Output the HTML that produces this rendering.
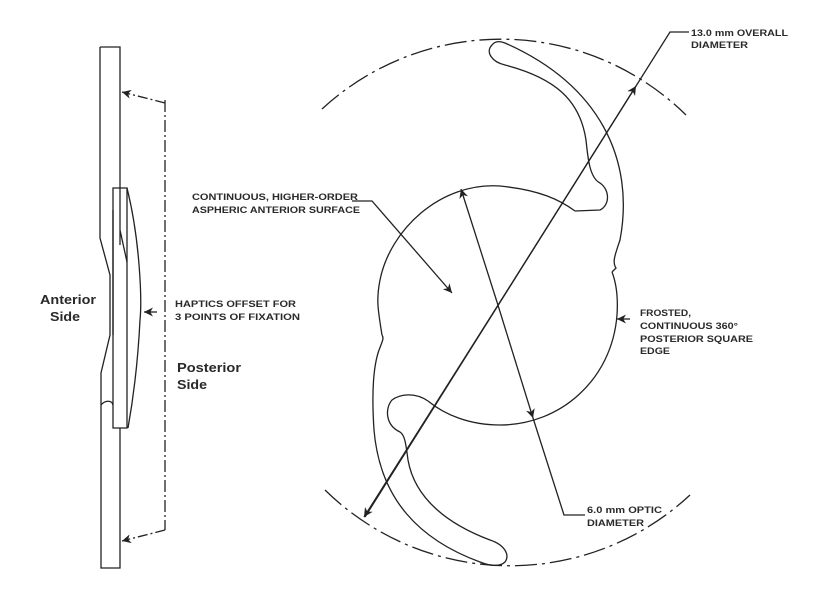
<!DOCTYPE html>
<html><head><meta charset="utf-8"><style>
html,body{margin:0;padding:0;background:#fff;width:830px;height:599px;overflow:hidden}
svg{display:block}
text{font-family:"Liberation Sans",sans-serif;font-weight:bold;fill:#2a2a2a}
.s{font-size:9.5px}
.b{font-size:13px}
</style></head><body>
<svg width="830" height="599" viewBox="0 0 830 599" xmlns="http://www.w3.org/2000/svg">
<defs>
<marker id="a" viewBox="0 0 10 10" refX="10" refY="5" markerWidth="9" markerHeight="9" orient="auto" markerUnits="userSpaceOnUse">
<path d="M0,0 L10,5 L0,10 L3,5 z" fill="#222"/></marker>
</defs>
<g fill="none" stroke="#222" stroke-width="1.3">
<!-- overall dashed circle arcs -->
<path d="M322,109 A264,264 0 0 1 686,115" stroke-dasharray="22,5,3,5"/>
<path d="M325,490 A264,264 0 0 0 690,495" stroke-dasharray="22,5,3,5"/>
<!-- optic -->
<path d="M575,211 C560,200 540,190 500,186 C440,182 390,230 380,280 C376,300 378,310 382,335"/>
<path d="M612,272 C617,285 618,300 617,315 C612,380 560,425 500,425 C470,425 445,415 428,401"/>
<!-- upper haptic -->
<path d="M575,211 L600,210 C610,205 610,190 600,183 C590,178 588,160 586,140 C580,100 555,78 505,65 C492,62 485,52 492,45 C495,41 500,41 505,43 C600,85 635,160 620,240 C615,255 612,262 616,268 L612,272"/>
<!-- lower haptic -->
<path d="M428,401 C415,392 400,394 392,400 C385,408 385,425 400,432 C405,435 406,445 408,460 C415,500 450,525 490,540 C505,545 510,555 505,562 C500,567 490,566 480,562 C420,540 380,500 374,430 C372,400 372,370 379,350 C383,340 384,338 382,335"/>
<!-- overall diameter -->
<path d="M365,517 L670,32 L689,32"/>
<path d="M500,302 L636,86" marker-end="url(#a)"/>
<path d="M500,302 L364,517" marker-end="url(#a)"/>
<!-- optic diameter -->
<path d="M497,302 L461,189" marker-end="url(#a)"/>
<path d="M497,302 L533,418" marker-end="url(#a)"/>
<path d="M533,418 L564,515 L585,515"/>
<!-- anterior surface leader -->
<path d="M352,201 L372,201 L452,293" marker-end="url(#a)"/>
<!-- frosted -->
<path d="M630,319 L617,319" marker-end="url(#a)"/>
<!-- side view -->
<path d="M100,47 L120,47 L120,188 M100,47 L100,238 L110,275 L110,335 L101,373 L101,568 L120,568 L120,428"/>
<path d="M113,188 L127,188 L127,428 L113,428 Z"/>
<path d="M127,188 C140,240 142,300 140,320 C138,360 133,400 128,428"/>
<path d="M120,230 L127,262 M113,210 L113,335 M120,188 L120,245"/>
<path d="M101,405 C105,400 112,400 113,405"/>
<path d="M165,100 L165,530" stroke-dasharray="12,3,2,3"/>
<path d="M165,103 L122,92" stroke-dasharray="10,3,2,3" marker-end="url(#a)"/>
<path d="M165,530 L122,541" stroke-dasharray="10,3,2,3" marker-end="url(#a)"/>
<path d="M157,312 L144,312" marker-end="url(#a)"/>
</g>
<text class="s" x="192" y="200" textLength="166" lengthAdjust="spacingAndGlyphs">CONTINUOUS, HIGHER-ORDER</text>
<text class="s" x="192" y="213" textLength="168" lengthAdjust="spacingAndGlyphs">ASPHERIC ANTERIOR SURFACE</text>
<text class="s" x="691" y="36" textLength="97" lengthAdjust="spacingAndGlyphs">13.0 mm OVERALL</text>
<text class="s" x="691" y="48" textLength="57" lengthAdjust="spacingAndGlyphs">DIAMETER</text>
<text class="s" x="640" y="316" textLength="51" lengthAdjust="spacingAndGlyphs">FROSTED,</text>
<text class="s" x="640" y="329" textLength="98" lengthAdjust="spacingAndGlyphs">CONTINUOUS 360°</text>
<text class="s" x="640" y="342" textLength="113" lengthAdjust="spacingAndGlyphs">POSTERIOR SQUARE</text>
<text class="s" x="640" y="354" textLength="30" lengthAdjust="spacingAndGlyphs">EDGE</text>
<text class="s" x="587" y="513" textLength="75" lengthAdjust="spacingAndGlyphs">6.0 mm OPTIC</text>
<text class="s" x="587" y="526" textLength="57" lengthAdjust="spacingAndGlyphs">DIAMETER</text>
<text class="s" x="175" y="307" textLength="121" lengthAdjust="spacingAndGlyphs">HAPTICS OFFSET FOR</text>
<text class="s" x="175" y="320" textLength="125" lengthAdjust="spacingAndGlyphs">3 POINTS OF FIXATION</text>
<text class="b" x="40" y="304" textLength="56" lengthAdjust="spacingAndGlyphs">Anterior</text>
<text class="b" x="50" y="321" textLength="30" lengthAdjust="spacingAndGlyphs">Side</text>
<text class="b" x="177" y="372" textLength="64" lengthAdjust="spacingAndGlyphs">Posterior</text>
<text class="b" x="177" y="389" textLength="30" lengthAdjust="spacingAndGlyphs">Side</text>
</svg>
</body></html>
